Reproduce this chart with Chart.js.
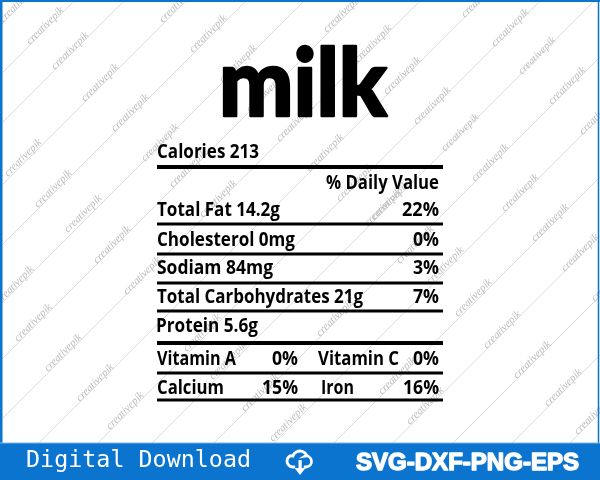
<!DOCTYPE html>
<html>
<head>
<meta charset="utf-8">
<style>html,body{margin:0;padding:0;background:#fff}canvas{display:block}</style>
<script src="https://cdn.jsdelivr.net/npm/chart.js@4"></script>
</head>
<body>
<canvas id="label" width="600" height="480" style="width:600px;height:480px"></canvas>
<script>
// label content
const title = 'milk';
const calories = 'Calories 213';
const dvHeader = '% Daily Value';
const nutrients = ['Total Fat 14.2g', 'Cholesterol 0mg', 'Sodiam 84mg', 'Total Carbohydrates 21g', 'Protein 5.6g'];
const dailyValues = ['22%', '0%', '3%', '7%'];
const minerals = ['Vitamin A', 'Vitamin C', 'Calcium', 'Iron'];
const mineralValues = ['0%', '0%', '15%', '16%'];
const footerLeft = 'Digital Download';
const footerRight = 'SVG-DXF-PNG-EPS';
const watermark = 'creativepik';

// rule heights and diagonal background lines, in picture units (x + y = c for the diagonals)
const ruleY = [167, 224, 254, 283, 311, 343, 373, 400];
const ruleW = [4, 3, 3, 3, 3, 4, 3, 3];
const diagonals = [26, 75, 125, 187, 247, 305, 361, 421, 482, 541, 595, 657, 717, 777, 836, 896, 955, 1013];
const stampX = [3, 30, 55, 85, 115, 145, 173, 203, 163, 193, 223, 250, 280, 8, 38, 68, 97, 127, 0, 18, 48, 80, 110, 187, 213, 245, 273, 327, 358, 387, 417, 445, 475, 505, 465, 495, 522, 552, 583, 310, 340, 375, 535, 565, 595, 458, 487, 517, 548, 578, 430, 400, 368, 320, 382, 410];
const stampY = [23, 45, 70, 102, 132, 162, 188, 218, 23, 53, 83, 113, 142, 177, 208, 233, 264, 295, 304, 342, 372, 402, 430, 352, 380, 412, 442, 33, 63, 95, 125, 152, 182, 212, 18, 47, 75, 105, 135, 172, 202, 220, 242, 272, 302, 317, 349, 379, 407, 435, 285, 264, 227, 337, 395, 425];

const BLUE = '#0a74cf';
const LABEL_FONT = '"Open Sans", sans-serif';

function seg(x1, y1, x2, y2) { return [{x: x1, y: y1}, {x: x2, y: y2}]; }

const datasets = [];
ruleY.forEach((y, i) => datasets.push({data: seg(157, y, 443, y), borderColor: '#000', borderWidth: ruleW[i], order: 1}));
// footer band + thin frame
datasets.push({data: seg(0, 443, 600, 443), borderColor: '#7db4e6', borderWidth: 1, backgroundColor: BLUE, fill: 'start', order: 3});
datasets.push({data: seg(1, 0, 1, 443), borderColor: BLUE, borderWidth: 3, order: 3});
datasets.push({data: seg(0, 1, 600, 1), borderColor: BLUE, borderWidth: 2, order: 3});
datasets.push({data: seg(598.5, 0, 598.5, 443), borderColor: BLUE, borderWidth: 1.5, order: 3});
diagonals.forEach(c => datasets.push({data: seg(0, c, c, 0), borderColor: '#cfcfcf', borderWidth: 0.7, order: 5}));

// text at picture position, squeezed to the width it has in the reference
function put(ctx, chart, text, x, y, w, font, color, stroke) {
  const px = chart.scales.x.getPixelForValue(x);
  const py = chart.scales.y.getPixelForValue(y);
  ctx.save();
  ctx.font = font;
  ctx.fillStyle = color || '#000';
  ctx.textBaseline = 'alphabetic';
  const sx = w / ctx.measureText(text).width;
  ctx.translate(px, py);
  ctx.scale(sx, 1);
  ctx.fillText(text, 0, 0);
  if (stroke) {
    ctx.strokeStyle = color || '#000';
    ctx.lineWidth = stroke;
    ctx.lineJoin = 'round';
    ctx.strokeText(text, 0, 0);
  }
  ctx.restore();
}

const stampPlugin = {
  id: 'stamps',
  beforeDatasetsDraw(chart) {
    const ctx = chart.ctx;
    stampX.forEach((x, i) => {
      ctx.save();
      ctx.translate(chart.scales.x.getPixelForValue(x), chart.scales.y.getPixelForValue(stampY[i]));
      ctx.rotate(-Math.PI / 4);
      ctx.font = 'italic 11px "Liberation Serif", serif';
      ctx.fillStyle = '#bcbcbc';
      ctx.fillText(watermark, 0, 0, 56);
      ctx.restore();
    });
  }
};

const textPlugin = {
  id: 'labelText',
  afterDatasetsDraw(chart) {
    const ctx = chart.ctx;
    const semi = '700 19.5px ' + LABEL_FONT;
    put(ctx, chart, title, 219, 115.5, 168, '900 94px Lato, sans-serif', '#000', 2.5);
    put(ctx, chart, calories, 157, 158, 102, semi);
    put(ctx, chart, dvHeader, 326, 188.5, 113, semi);

    const nameW = [123, 138, 116, 206, 102];
    const nameX = [157, 157, 157, 157, 156];
    const baseY = [216, 245.5, 274, 302.5, 332];
    nutrients.forEach((t, i) => put(ctx, chart, t, nameX[i], baseY[i], nameW[i], semi));
    const dvX = [402, 413, 413, 413];
    dailyValues.forEach((t, i) => put(ctx, chart, t, dvX[i], baseY[i], 439 - dvX[i], semi));

    const minX = [157, 318, 157, 321];
    const minW = [79, 81, 67, 33];
    const minY = [365, 365, 394, 394];
    minerals.forEach((t, i) => put(ctx, chart, t, minX[i], minY[i], minW[i], semi));
    const valX = [272, 413, 262, 403];
    const valEnd = [298, 439, 298, 439];
    mineralValues.forEach((t, i) => put(ctx, chart, t, valX[i], minY[i], valEnd[i] - valX[i], semi));

    put(ctx, chart, footerLeft, 26, 467, 225, '23px "DejaVu Sans Mono", monospace', '#fff');
    // heavy footer text: fill plus a stroke to get the weight
    put(ctx, chart, footerRight, 356, 470, 223, 'bold 23px "Liberation Sans", sans-serif', '#fff', 1.4);

    // cloud download icon
    const X = v => chart.scales.x.getPixelForValue(v), Y = v => chart.scales.y.getPixelForValue(v);
    ctx.save();
    ctx.strokeStyle = '#fff'; ctx.lineWidth = 2.8; ctx.lineCap = 'round';
    ctx.beginPath();
    ctx.moveTo(X(294), Y(467));
    ctx.lineTo(X(293), Y(467));
    ctx.arc(X(293), Y(461), 6, Math.PI * 0.5, Math.PI * 1.35);
    ctx.arc(X(300), Y(458.5), 7.5, Math.PI * 1.1, Math.PI * 1.85);
    ctx.arc(X(306), Y(461.5), 5.5, Math.PI * 1.45, Math.PI * 0.5);
    ctx.lineTo(X(305), Y(467));
    ctx.stroke();
    ctx.fillStyle = '#fff';
    ctx.fillRect(X(298.5), Y(460), 3.2, 9);
    ctx.beginPath();
    ctx.moveTo(X(294.5), Y(468));
    ctx.lineTo(X(305.5), Y(468));
    ctx.lineTo(X(300), Y(475));
    ctx.fill();
    ctx.restore();
  }
};

new Chart(document.getElementById('label'), {
  type: 'line',
  data: {datasets},
  options: {
    responsive: false,
    animation: false,
    devicePixelRatio: 1,
    layout: {padding: 0},
    elements: {point: {radius: 0}, line: {tension: 0}},
    plugins: {legend: {display: false}, tooltip: {enabled: false}},
    scales: {
      x: {type: 'linear', min: 0, max: 600, display: false},
      y: {type: 'linear', min: 0, max: 480, reverse: true, display: false}
    }
  },
  plugins: [stampPlugin, textPlugin]
});
</script>
</body>
</html>
